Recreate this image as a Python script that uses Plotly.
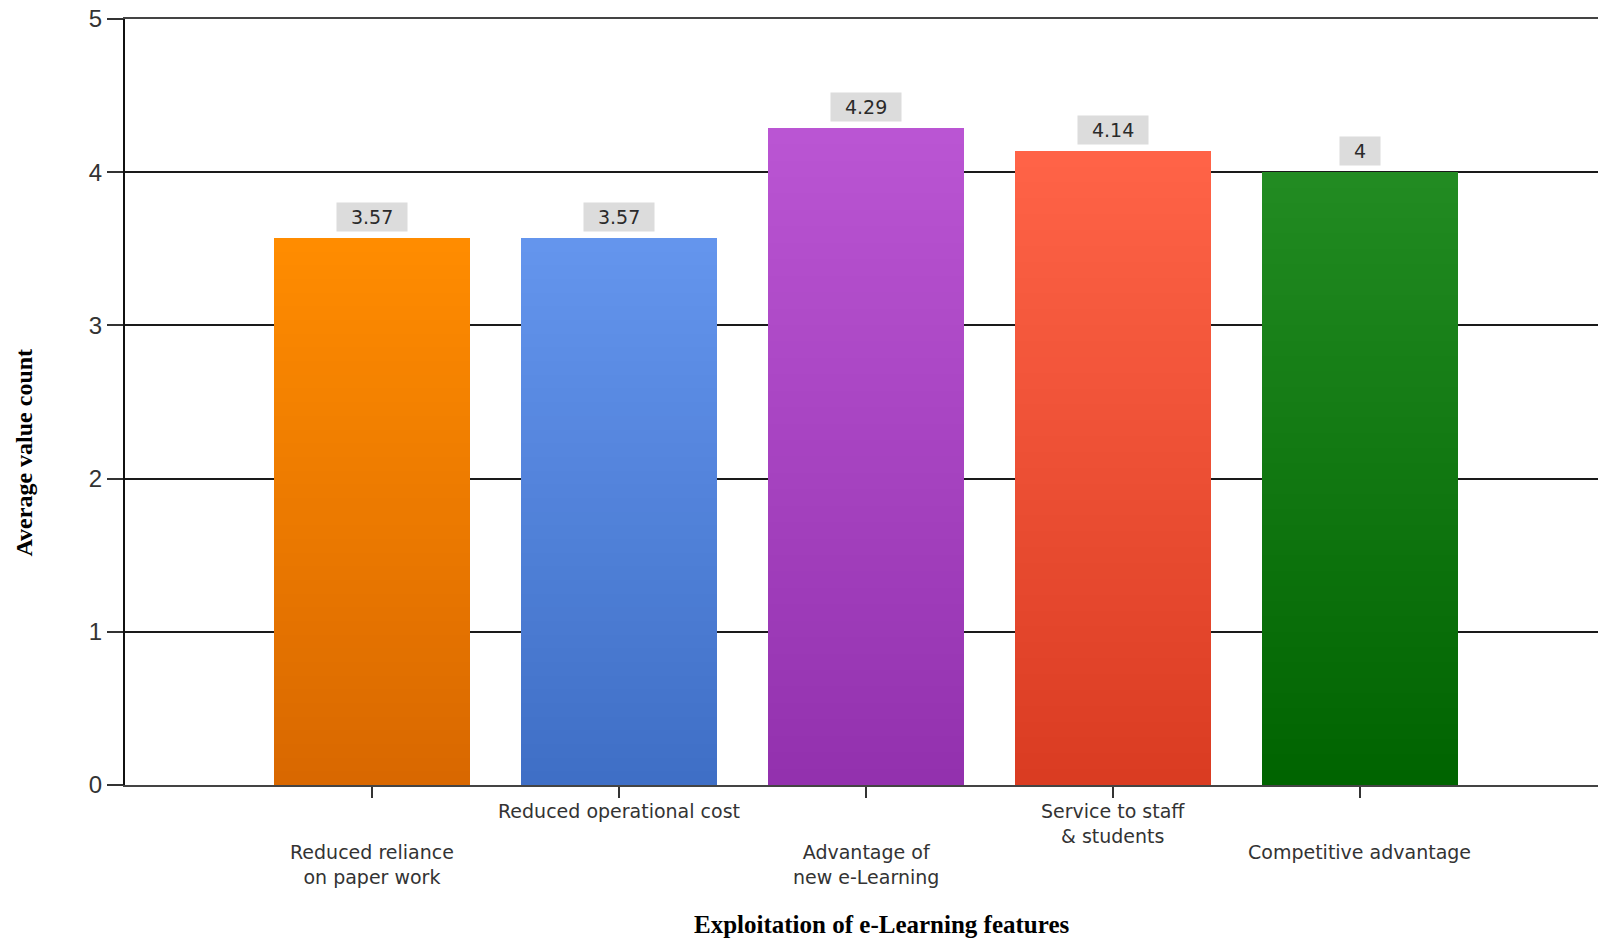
import plotly.graph_objects as go

# ---- data ----
categories = [
    "Reduced reliance<br>on paper work",
    "Reduced operational cost",
    "Advantage of<br>new e-Learning",
    "Service to staff<br>& students",
    "Competitive advantage",
]
values = [3.57, 3.57, 4.29, 4.14, 4.0]
value_labels = ["3.57", "3.57", "4.29", "4.14", "4"]
top_colors = ["#FF8C00", "#6495ED", "#BA55D3", "#FF6347", "#228B22"]
bottom_colors = ["#D96800", "#3F6FC6", "#9331AE", "#DA3C22", "#006400"]
label_row = [1, 0, 1, 0, 1]  # 0 = upper row, 1 = lower row (staggered)
y_ticks = [0, 1, 2, 3, 4, 5]

x_pos = list(range(len(categories)))


def hex_to_rgb(h):
    h = h.lstrip("#")
    return tuple(int(h[i:i + 2], 16) for i in (0, 2, 4))


def mix(c1, c2, t):
    a, b = hex_to_rgb(c1), hex_to_rgb(c2)
    r = [round(a[i] + (b[i] - a[i]) * t) for i in range(3)]
    return "rgb(%d,%d,%d)" % tuple(r)


N_SEG = 40  # vertical gradient slices per bar
fig = go.Figure()
for k in range(N_SEG):
    t = (k + 0.5) / N_SEG
    fig.add_trace(go.Bar(
        x=x_pos,
        y=[v / N_SEG for v in values],
        marker=dict(
            color=[mix(bottom_colors[i], top_colors[i], t) for i in range(len(values))],
            line=dict(width=0),
        ),
        showlegend=False,
        hoverinfo="skip",
    ))

annotations = []
# value labels in grey boxes
for i, (v, lab) in enumerate(zip(values, value_labels)):
    w = sum(6.0 if ch == "." else 12.1 for ch in lab) + 26
    annotations.append(dict(
        x=i, y=v, xref="x", yref="y", text=lab, showarrow=False,
        yanchor="bottom", yshift=6, bgcolor="#DCDCDC", width=w, height=26,
        font=dict(family="DejaVu Sans", size=19, color="#2a2a2a"),
    ))

# staggered category labels
for i, (cat, row) in enumerate(zip(categories, label_row)):
    annotations.append(dict(
        x=i, y=0, xref="x", yref="paper", text=cat, showarrow=False,
        yanchor="top", yshift=-13 if row == 0 else -54,
        font=dict(family="DejaVu Sans", size=19, color="#333333"),
    ))

# axis titles
annotations.append(dict(
    x=(881 - 125) / 1473, y=(785 - 925) / 767, xref="paper", yref="paper",
    text="Exploitation of e-Learning features", showarrow=False,
    xanchor="center", yanchor="middle",
    font=dict(family="Liberation Serif", size=25, color="#000000", weight="bold"),
))
annotations.append(dict(
    x=(24 - 125) / 1473, y=(785 - 452) / 767, xref="paper", yref="paper",
    text="Average value count", showarrow=False, textangle=-90,
    xanchor="center", yanchor="middle",
    font=dict(family="Liberation Serif", size=24, color="#000000", weight="bold"),
))

fig.update_layout(
    width=1598, height=940,
    margin=dict(l=125, r=0, t=19, b=155),
    paper_bgcolor="white", plot_bgcolor="white",
    barmode="stack", bargap=0.206,
    annotations=annotations,
    xaxis=dict(
        range=[-1, 4.965],
        tickvals=x_pos, ticktext=[""] * len(x_pos),
        ticks="outside", ticklen=11, tickwidth=1.5, tickcolor="#333333",
        showline=True, linecolor="#444444", linewidth=2, mirror=True,
        showgrid=False, zeroline=False, fixedrange=True,
    ),
    yaxis=dict(
        range=[0, 5],
        tickvals=y_ticks, ticktext=[str(t) for t in y_ticks],
        ticks="outside", ticklen=16, tickwidth=1.5, tickcolor="#333333",
        tickfont=dict(family="Liberation Sans", size=24, color="#333333"),
        showline=True, linecolor="#111111", linewidth=2,
        showgrid=True, gridcolor="#1a1a1a", gridwidth=1.5,
        zeroline=False, fixedrange=True,
    ),
)

fig.write_html("out.html")
